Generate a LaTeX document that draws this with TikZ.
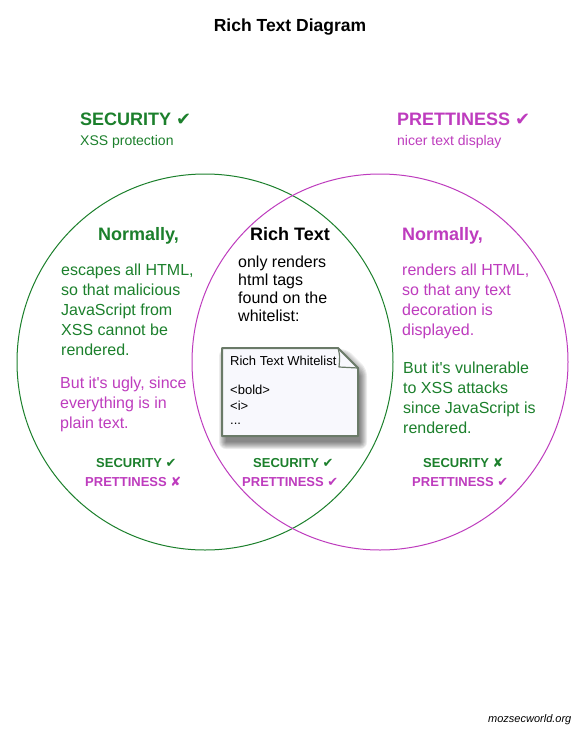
\documentclass[tikz,border=0pt]{standalone}
\usepackage{fontspec}
\setmainfont{Liberation Sans}[Ligatures=TeXOff]
\newfontfamily\symf{DejaVu Sans}
\definecolor{sgreen}{RGB}{28,128,44}
\definecolor{pmag}{RGB}{190,60,190}
\definecolor{boxborder}{RGB}{106,122,104}
\definecolor{boxfill}{RGB}{248,248,253}
\tikzset{
  tl/.style={inner sep=0pt, anchor=base west},
  body/.style={tl, font=\fontsize{16}{20}\selectfont},
  head/.style={tl, font=\bfseries\fontsize{18}{22}\selectfont},
  sub/.style={tl, font=\fontsize{14}{17}\selectfont},
  small/.style={tl, font=\bfseries\fontsize{13}{16}\selectfont},
  wl/.style={tl, font=\fontsize{13}{16}\selectfont},
  venn/.style={line width=1pt},
  shadowlayer/.style={fill=black, fill opacity=0.075, draw=none}
}
\begin{document}
\begin{tikzpicture}[x=1pt,y=-1pt]
\useasboundingbox[fill=white] (0,0) rectangle (587,736);
% circles
\draw[venn, sgreen] (205,362) circle[radius=188];
\draw[venn, pmag] (380,362) circle[radius=188];
% title
\node[tl, font=\bfseries\fontsize{17.5}{21}\selectfont, anchor=base] (title) at (290,31) {Rich Text Diagram};
% headers
\node[head, sgreen] (hsec) at (80,125) {SECURITY {\symf ✔}};
\node[sub, sgreen] (hsecsub) at (80,145) {XSS protection};
\node[head, pmag] (hpre) at (397,125) {PRETTINESS {\symf ✔}};
\node[sub, pmag] (hpresub) at (397,145) {nicer text display};
% left region
\node[head, sgreen] (lnorm) at (98,240) {Normally,};
\node[body, sgreen] (l1) at (61,275) {escapes all HTML,};
\node[body, sgreen] (l2) at (61,295) {so that malicious};
\node[body, sgreen] (l3) at (61,315) {JavaScript from};
\node[body, sgreen] (l4) at (61,335) {XSS cannot be};
\node[body, sgreen] (l5) at (61,355) {rendered.};
\node[body, pmag] (l6) at (60,388) {But it's ugly, since};
\node[body, pmag] (l7) at (60,408) {everything is in};
\node[body, pmag] (l8) at (60,428) {plain text.};
\node[small, sgreen] (lsec) at (96,467) {SECURITY {\symf ✔}};
\node[small, pmag] (lpre) at (85,486) {PRETTINESS {\symf ✘}};
% center region
\node[head, black] (cnorm) at (250,240) {Rich Text};
\node[body] (c1) at (238,267) {only renders};
\node[body] (c2) at (238,285) {html tags};
\node[body] (c3) at (238,303) {found on the};
\node[body] (c4) at (238,321) {whitelist:};
% whitelist box shadow
\foreach \i in {0,...,7}{
  \fill[shadowlayer, rounded corners=\i pt]
    (226-\i,356-\i) -- (340+\i,356-\i) -- (360+\i,376-\i) -- (360+\i,442+\i) -- (226-\i,442+\i) -- cycle;
}
% whitelist box
\draw[line width=2pt, boxborder, fill=boxfill, line join=round]
  (222,348) -- (338,348) -- (358,368) -- (358,436) -- (222,436) -- cycle;
\draw[line width=1.2pt, boxborder, line join=round]
  (338,348) .. controls (340,356) .. (339,367) -- (358,368);
\node[wl] (w1) at (230,365) {Rich Text Whitelist};
\node[wl] (w2) at (230,394) {<bold>};
\node[wl] (w3) at (230,410) {<i>};
\node[wl] (w4) at (230,424) {...};
\node[small, sgreen] (csec) at (253,467) {SECURITY {\symf ✔}};
\node[small, pmag] (cpre) at (242,486) {PRETTINESS {\symf ✔}};
% right region
\node[head, pmag] (rnorm) at (402,240) {Normally,};
\node[body, pmag] (r1) at (402,275) {renders all HTML,};
\node[body, pmag] (r2) at (402,295) {so that any text};
\node[body, pmag] (r3) at (402,315) {decoration is};
\node[body, pmag] (r4) at (402,335) {displayed.};
\node[body, sgreen] (r5) at (403,373) {But it's vulnerable};
\node[body, sgreen] (r6) at (403,393) {to XSS attacks};
\node[body, sgreen] (r7) at (403,413) {since JavaScript is};
\node[body, sgreen] (r8) at (403,433) {rendered.};
\node[small, sgreen] (rsec) at (423,467) {SECURITY {\symf ✘}};
\node[small, pmag] (rpre) at (412,486) {PRETTINESS {\symf ✔}};
% footer
\node[tl, font=\itshape\fontsize{11}{13}\selectfont] (foot) at (488,722) {mozsecworld.org};
\end{tikzpicture}
\end{document}
